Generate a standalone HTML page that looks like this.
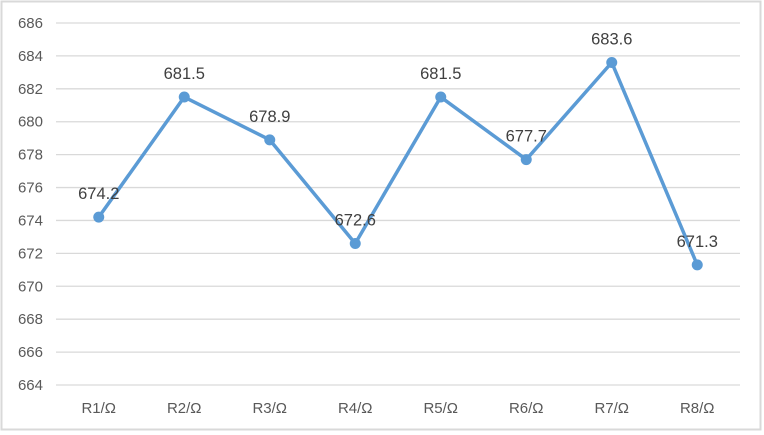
<!DOCTYPE html>
<html><head><meta charset="utf-8"><style>
body{margin:0;background:#fff;}
svg{display:block;font-family:"Liberation Sans",sans-serif;}
</style></head><body>
<svg id="chart" width="764" height="435">
<rect x="1.5" y="1.5" width="759" height="428" fill="#fff" stroke="#d9d9d9" stroke-width="2"/>
<g id="grid"></g><g id="yticks"></g><g id="xticks"></g><g id="series"></g>
</svg>
<script>
const categories=["R1/Ω","R2/Ω","R3/Ω","R4/Ω","R5/Ω","R6/Ω","R7/Ω","R8/Ω"];
const values=[674.2,681.5,678.9,672.6,681.5,677.7,683.6,671.3];
const yTicks=[664,666,668,670,672,674,676,678,680,682,684,686];
const NS="http://www.w3.org/2000/svg";
const L=56,R=740,T=23,B=385,yMin=664,yMax=686;
const y=v=>B-(v-yMin)/(yMax-yMin)*(B-T);
const x=i=>L+(R-L)/categories.length*(i+0.5);
function mk(tag,attrs,parent){const e=document.createElementNS(NS,tag);for(const k in attrs)e.setAttribute(k,attrs[k]);parent.appendChild(e);return e;}
const grid=document.getElementById('grid'),yt=document.getElementById('yticks'),xt=document.getElementById('xticks'),se=document.getElementById('series');
yTicks.forEach(v=>{
 const g=mk('line',{x1:L,x2:R,y1:y(v),y2:y(v),stroke:'#d9d9d9','stroke-width':1.3},grid);
 
 
 const t=mk('text',{x:43,y:y(v)+5,'text-anchor':'end','font-size':15,fill:'#595959'},yt);
 t.textContent=v;
 
 
});
categories.forEach((c,i)=>{
 const t=mk('text',{x:x(i),y:413,'text-anchor':'middle','font-size':15,fill:'#595959'},xt);
 t.textContent=c;
 
 
});
const pl=mk('polyline',{points:values.map((v,i)=>x(i)+','+y(v)).join(' '),fill:'none',stroke:'#5b9bd5','stroke-width':3.5,'stroke-linejoin':'round'},se);


values.forEach((v,i)=>{
 const c=mk('circle',{cx:x(i),cy:y(v),r:5.5,fill:'#5b9bd5'},se);
 
 
 const t=mk('text',{x:x(i),y:y(v)-18,'text-anchor':'middle','font-size':16.5,fill:'#404040'},se);
 t.textContent=v.toFixed(1);
 
 
});
</script>
</body></html>
